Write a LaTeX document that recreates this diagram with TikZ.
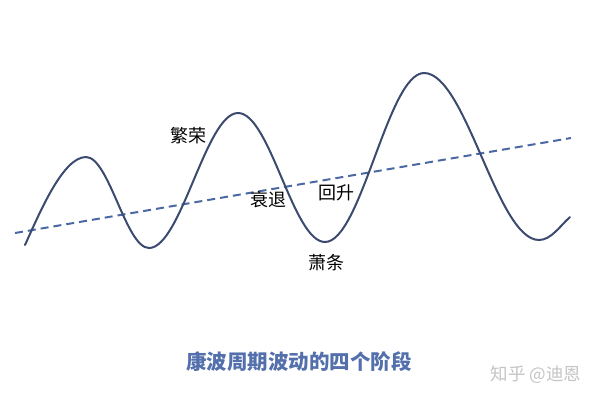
\documentclass[tikz,border=0pt]{standalone}
\usepackage{fontspec}
\newfontfamily\cjk{Noto Sans CJK SC}
\definecolor{wave}{HTML}{3B4A6E}
\definecolor{trend}{HTML}{4A69A3}
\definecolor{titleblue}{HTML}{5470AC}
\definecolor{mark}{HTML}{C4C4C4}
\tikzset{
  wavecurve/.style={draw=wave, line width=2pt, line cap=round},
  trendline/.style={draw=trend, line width=2pt, dash pattern=on 8pt off 5pt},
  phase/.style={font=\cjk\fontsize{18}{21}\selectfont, text=black, inner sep=0pt},
  titletext/.style={font=\cjk\bfseries\fontsize{20.5}{24}\selectfont, text=titleblue, inner sep=0pt},
  marktext/.style={font=\cjk\fontsize{17.5}{20}\selectfont, text=mark, inner sep=0pt}
}
\begin{document}
\begin{tikzpicture}[x=1pt, y=-1pt]
\useasboundingbox (0,0) rectangle (599,400);
\fill[white] (0,0) rectangle (599,400);
% trend line
\coordinate (d1) at (15,233);
\coordinate (d2) at (571,138);
\draw[trendline] (d1) -- (d2);
% wave
\coordinate (s) at (25,245);
\coordinate (p1) at (86,157);
\coordinate (t1) at (149,248);
\coordinate (p2) at (238,113);
\coordinate (t2) at (325,242);
\coordinate (p3) at (424,73);
\coordinate (t3) at (539,240);
\coordinate (e) at (570,217);
\draw[wavecurve] (s) .. controls (40,212) and (63,157) .. (p1)
  .. controls (109,157) and (126,248) .. (t1)
  .. controls (181,248) and (206,113) .. (p2)
  .. controls (270,113) and (293,242) .. (t2)
  .. controls (361,242) and (388,73) .. (p3)
  .. controls (466,73) and (497,240) .. (t3)
  .. controls (551,240) and (560,226) .. (e);
% labels
\node[phase] (fanrong) at (188,136) {繁荣};
\node[phase] (shuaitui) at (268,200) {衰退};
\node[phase] (huisheng) at (336,193) {回升};
\node[phase] (xiaotiao) at (326,263) {萧条};
\node[titletext] (title) at (299,362) {康波周期波动的四个阶段};
\node[marktext] (wm) at (536,375) {知乎 @迪恩};
\end{tikzpicture}
\end{document}
